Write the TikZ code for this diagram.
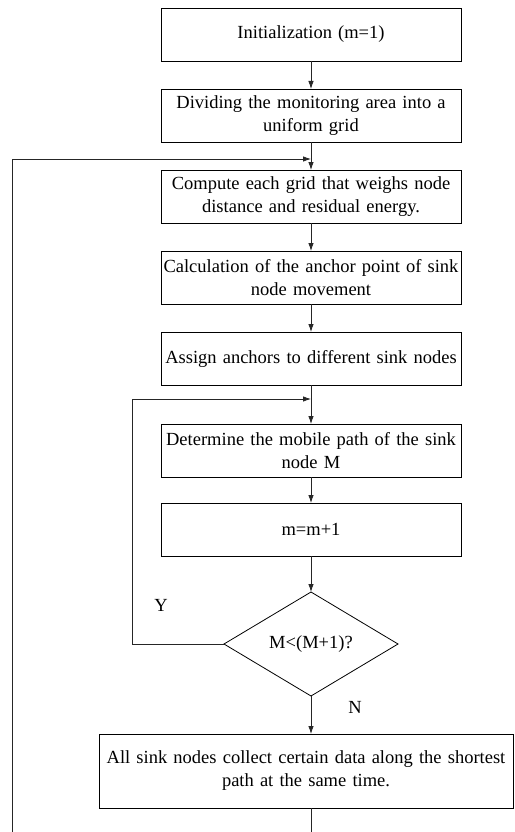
\documentclass[tikz,border=0pt]{standalone}
\usepackage{fontspec}
\setmainfont{Liberation Serif}
\usetikzlibrary{shapes.geometric, arrows.meta, positioning}

\tikzset{
  stepbox/.style={rectangle, draw, line width=0.9pt, text width=300pt, align=center,
    inner xsep=0pt, inner ysep=0pt, outer sep=0pt, minimum height=53pt},
  link/.style={line width=0.8pt, draw=black!85},
  arr/.style={link, -{Latex[length=8pt,width=5.5pt]}}
}

\begin{document}
\begin{tikzpicture}[font=\fontsize{18.5}{23}\selectfont]
            \useasboundingbox (0pt,0pt) rectangle (514pt,-832pt);

            \node[stepbox] (init) at (311pt,-34.5pt) {Initialization (m=1)};
            \node[stepbox, below=28pt of init] (grid) {Dividing the monitoring area into a\\uniform grid};
            \node[stepbox, below=28pt of grid] (weigh) {Compute each grid that weighs node\\distance and residual energy.};
            \node[stepbox, below=28pt of weigh] (anchor) {Calculation of the anchor point of sink\\node movement};
            \node[stepbox, below=28pt of anchor] (assign) {Assign anchors to different sink nodes};
            \node[stepbox, below=39pt of assign] (path) {Determine the mobile path of the sink\\node M};
            \node[stepbox, below=26pt of path] (incr) {m=m+1};
            \node[diamond, draw, line width=0.8pt, inner sep=0pt, outer sep=0pt, minimum width=174pt, minimum height=104pt, below=36pt of incr] (check) {M<(M+1)?};
            \node[stepbox, text width=414pt, minimum height=74pt, below=38pt of check, xshift=-5pt] (collect) {All sink nodes collect certain data along the shortest\\path at the same time.};

            \coordinate (j1) at ([yshift=-17pt]grid.south);
            \coordinate (j2) at ([yshift=-14pt]assign.south);
            \coordinate (outer) at (12pt,-832pt);
            \coordinate (bottom) at (init.south |- outer);

            \draw[arr] (init) -- (grid);
            \draw[arr] (grid) -- (weigh);
            \draw[arr] (weigh) -- (anchor);
            \draw[arr] (anchor) -- (assign);
            \draw[arr] (assign) -- (path);
            \draw[arr] (path) -- (incr);
            \draw[arr] (incr) -- (check);
            \draw[arr] (check) -- (check.south |- collect.north);
            \draw[link] (check.south |- collect.south) -- (bottom);

            % loops back
            \draw[arr] (check.west) -- ++(-92pt,0) |- (j2);
            \draw[arr] (outer) |- (j1);

            \node (yes) at (161pt,-605pt) {Y};
            \node (no) at (355pt,-707pt) {N};
        \end{tikzpicture}
\end{document}
